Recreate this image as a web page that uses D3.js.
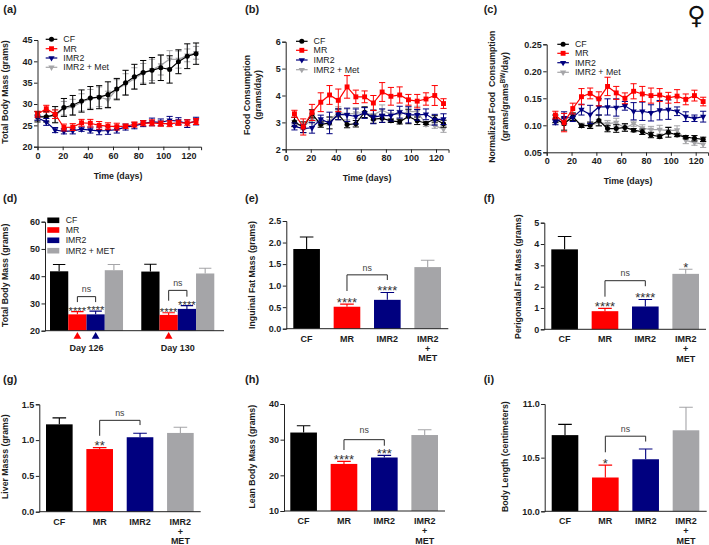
<!DOCTYPE html>
<html><head><meta charset="utf-8">
<script src="https://cdn.jsdelivr.net/npm/d3@7"></script>
<style>
html,body{margin:0;padding:0;background:#fff}
svg{display:block}
text{font-family:"Liberation Sans",Arial,sans-serif;fill:#1c1c1c}
</style></head><body>
<svg id="c" width="709" height="545"></svg>
<script>
// ---------- data ----------
const seriesNames = ["CF","MR","IMR2","IMR2 + Met"];
const barNames = ["CF","MR","IMR2","IMR2 + MET"];
const daysA = [0,7,14,21,28,35,42,49,56,63,70,77,84,91,98,105,112,119,126];
const daysB = [7,14,21,28,35,42,49,56,63,70,77,84,91,98,105,112,119,126];

const aCF   = [27,27,27.5,29.2,29.7,30.7,31.4,31.6,32.2,33.5,35,36.4,37.4,37.9,38.5,38.1,39.9,41.2,41.8];
const aCFe  = [1.2,1.2,1.9,2.1,2.3,2.6,2.7,2.7,3,2.5,2.9,2.9,2.8,3,3,3.2,2.8,2.9,2.5];
const aMR   = [27.6,28.9,27.6,24.5,24.6,25.6,25.5,25,24.8,24.7,24.8,25.2,25.5,25.6,25.4,25.4,25.6,25.6,25.9];
const aMRe  = [.7,.8,1,.8,.8,.8,.9,.9,.8,.8,.5,.6,.6,.7,.6,.7,.6,.7,.7];
const aIM   = [26.8,25.8,23.9,23.6,23.7,24.1,23.9,23.7,23.8,24,24.6,24.9,25.4,25.8,25.7,26.2,26,25.4,26];
const aIMe  = [.6,.8,.6,.6,.7,.5,.7,.9,.9,.8,.7,.7,.7,.9,.8,.9,.8,.9,.9];
const aMT   = [27.2,27,27.2,29,29.3,30.4,31.2,31.7,31,33.5,34.6,36,37.2,38,39.1,40.5,40.4,41.4,42];
const aMTe  = [1,1.2,1.5,1.6,1.8,2,2.2,2.3,2,2.2,2.5,2.5,2.3,2.5,2.3,2,2,1.5,1.5];

const bCF   = [3.02,2.82,3.32,2.92,2.98,3.3,2.92,2.95,3.38,3.12,3.15,3.06,3.02,3.22,3.06,2.97,3.13,2.95];
const bCFe  = [.17,.2,.15,.1,.22,.2,.12,.12,.2,.15,.15,.06,.08,.27,.14,.05,.12,.13];
const bMR   = [3.32,2.83,3.37,3.75,4.02,3.82,4.32,3.95,3.95,3.72,4.13,3.97,4.02,3.84,3.79,3.87,4.0,3.7];
const bMRe  = [.13,.3,.3,.35,.35,.42,.42,.25,.22,.28,.35,.33,.3,.2,.25,.23,.37,.18];
const bIM   = [2.85,2.77,2.8,3.12,2.98,3.3,3.28,3.22,3.35,3.2,3.25,3.25,3.38,3.28,3.28,3.3,3.1,3.12];
const bIMe  = [.13,.15,.2,.15,.4,.2,.25,.28,.2,.25,.25,.2,.22,.3,.2,.2,.2,.2];
const bMT   = [2.95,2.85,3.1,3.0,3.05,3.38,3.3,3.35,3.35,3.28,3.45,3.3,3.3,3.4,3.4,2.93,2.88,2.75];
const bMTe  = [.12,.12,.15,.1,.15,.2,.2,.2,.2,.2,.2,.15,.15,.2,.2,.08,.1,.12];

const cCF   = [.112,.103,.116,.099,.1,.109,.094,.094,.096,.091,.088,.082,.079,.087,.082,.078,.076,.074];
const cCFe  = [.007,.012,.007,.003,.006,.01,.006,.007,.007,.003,.005,.005,.003,.009,.003,.003,.005,.004];
const cMR   = [.119,.105,.131,.153,.159,.149,.172,.16,.15,.163,.158,.155,.156,.151,.154,.148,.155,.144];
const cMRe  = [.007,.017,.01,.015,.01,.013,.017,.012,.01,.014,.014,.014,.012,.01,.012,.01,.01,.008];
const cIM   = [.106,.114,.114,.129,.12,.134,.134,.133,.136,.126,.126,.123,.128,.129,.126,.116,.113,.116];
const cIMe  = [.005,.011,.007,.01,.017,.015,.015,.016,.008,.016,.017,.015,.018,.018,.008,.009,.006,.01];
const cMT   = [.108,.106,.114,.1,.1,.105,.103,.105,.095,.103,.095,.092,.092,.09,.091,.072,.068,.065];
const cMTe  = [.006,.006,.006,.004,.005,.006,.006,.008,.006,.005,.006,.006,.008,.007,.008,.006,.005,.006];

const dVals = [41.8,26,26,42.2, 41.7,25.8,28,41];
const dErrs = [2.5,1,1.2,2.1, 2.7,.8,1.2,1.9];
const eVals = [1.85,.51,.67,1.43]; const eErrs = [.28,.06,.17,.16];
const fVals = [3.75,.85,1.07,2.6]; const fErrs = [.6,.13,.33,.22];
const gVals = [1.22,.875,1.04,1.1]; const gErrs = [.09,.02,.055,.08];
const hVals = [32,23.2,25,31.3];   const hErrs = [1.9,.7,.6,1.5];
const iVals = [10.71,10.315,10.485,10.755]; const iErrs = [.1,.115,.095,.215];
const xTicks = [0,20,40,60,80,100,120];

// ---------- style ----------
const COL = {CF:"#000000",MR:"#ff0000",IM:"#00007f",MT:"#a5a5a8"};
const barCols = [COL.CF,COL.MR,COL.IM,COL.MT];
const AX = "#222";
const svg = d3.select("#c");

function label(txt,x,y,opt={}){
  return svg.append("text").attr("x",x).attr("y",y).text(txt)
    .attr("font-size",opt.size||9).attr("font-weight",opt.weight||"bold")
    .attr("text-anchor",opt.anchor||"middle");
}
function vlabel(txt,x,cy,size=8.75){
  return svg.append("text").attr("transform",`translate(${x},${cy}) rotate(-90)`)
    .attr("text-anchor","middle").attr("font-size",size).attr("font-weight","bold").text(txt);
}
function yAxis(g,y,ticks,fmt){
  const a=d3.axisLeft(y).tickValues(ticks).tickFormat(fmt).tickSize(3.5).tickPadding(1.5);
  g.call(a);
  g.selectAll("path,line").attr("stroke",AX).attr("stroke-width",1);
  g.selectAll("text").attr("font-size",9).attr("font-weight","bold").attr("font-family",'"Liberation Sans",Arial,sans-serif');
}
function xAxisLine(g,x,ticks){
  const a=d3.axisBottom(x).tickValues(ticks).tickFormat(d3.format("d")).tickSize(3.5).tickPadding(2);
  g.call(a);
  g.selectAll("path,line").attr("stroke",AX).attr("stroke-width",1);
  g.selectAll("text").attr("font-size",9).attr("font-weight","bold").attr("font-family",'"Liberation Sans",Arial,sans-serif');
}
const sym = {
  CF:d3.symbol().type(d3.symbolCircle).size(20)(),
  MR:d3.symbol().type(d3.symbolSquare).size(24)(),
  IM:d3.symbol().type(d3.symbolTriangle).size(17)(),
  MT:d3.symbol().type(d3.symbolTriangle).size(17)()
};
function marker(g,key,x,y){
  g.append("path").attr("d",sym[key]).attr("fill",COL[key])
   .attr("transform",`translate(${x},${y})`+((key==="IM"||key==="MT")?" rotate(180)":""));
}
function linePanel(p){
  const x=d3.scaleLinear().domain([0,130]).range([p.x0,p.x0+(p.x120-p.x0)*130/120]);
  const y=d3.scaleLinear().domain(p.yd).range([p.yb,p.yt]);
  const gAll=svg.append("g");
  const line=d3.line().x(d=>x(d[0])).y(d=>y(d[1]));
  p.series.forEach(s=>{
    const g=gAll.append("g");
    const pts=p.days.map((d,i)=>[d,s.v[i],s.e[i]]);
    g.append("path").attr("d",line(pts)).attr("fill","none").attr("stroke",COL[s.k]).attr("stroke-width",1.2);
    pts.forEach(d=>{
      const px=x(d[0]);
      g.append("path").attr("d",`M${px-3.1},${y(d[1]+d[2])}H${px+3.1}M${px},${y(d[1]+d[2])}V${y(d[1]-d[2])}M${px-3.1},${y(d[1]-d[2])}H${px+3.1}`)
        .attr("stroke",COL[s.k]).attr("stroke-width",1).attr("fill","none");
      marker(g,s.k,px,y(d[1]));
    });
  });
  yAxis(svg.append("g").attr("transform",`translate(${p.x0},0)`),y,p.yt_,p.fmt);
  xAxisLine(svg.append("g").attr("transform",`translate(0,${p.yb})`),x,xTicks);
  // legend
  const L=p.leg;
  ["CF","MR","IM","MT"].forEach((k,i)=>{
    const yy=L.ys[i];
    const g=svg.append("g");
    g.append("line").attr("x1",L.x).attr("x2",L.x+11.6).attr("y1",yy).attr("y2",yy).attr("stroke",COL[k]).attr("stroke-width",1.2);
    marker(g,k,L.x+5.8,yy);
    label(seriesNames[i],L.x+17.6,yy+3.1,{size:8.8,weight:"normal",anchor:"start"});
  });
  label("Time (days)",p.xl[0],p.xl[1],{size:8.8});
}
function cats(x,yb,names){
  names.forEach((n,i)=>{
    const cx=x(i)+x.bandwidth()/2;
    if(n.includes("+")){
      label("IMR2",cx,yb+13); label("+",cx,yb+23); label("MET",cx,yb+32.6);
    } else label(n,cx,yb+13);
  });
}
function drawBars(g,x,y,base,vals,errs,idx){
  vals.forEach((v,i)=>{
    const s=idx?idx[i]:i, c=barCols[i%4], cx=x(s)+x.bandwidth()/2;
    const cw=idx?6.2:6.8;
    g.append("path").attr("d",`M${cx},${y(v)}V${y(v+errs[i])}M${cx-cw},${y(v+errs[i])}H${cx+cw}`)
      .attr("stroke",c).attr("stroke-width",1.1).attr("fill","none");
    g.append("rect").attr("x",x(s)).attr("width",x.bandwidth()).attr("y",y(v)).attr("height",y(base)-y(v)).attr("fill",c);
  });
}
function bracket(x1,x2,yTop,yL,yR,nsY,y){
  svg.append("path").attr("d",`M${x1},${y(yL)}V${y(yTop)}H${x2}V${y(yR)}`)
    .attr("fill","none").attr("stroke","#2a2a2a").attr("stroke-width",1);
  label("ns",(x1+x2)/2,nsY,{size:8.8,weight:"normal"}).style("fill","#444");
}
function stars(s,cx,yy,size){
  label(s,cx,yy,{size:size,weight:"normal"}).style("fill","#333");
}
function barPanel(p){
  const x=d3.scaleBand().domain([0,1,2,3]).range(p.xr).paddingInner(.34);
  const y=d3.scaleLinear().domain(p.yd).range([p.yb,p.yt]);
  drawBars(svg.append("g"),x,y,p.yd[0],p.vals,p.errs);
  yAxis(svg.append("g").attr("transform",`translate(${p.ax[0]},0)`),y,p.ticks,p.fmt);
  svg.append("line").attr("x1",p.ax[0]).attr("x2",p.ax[1]).attr("y1",p.yb).attr("y2",p.yb).attr("stroke",AX).attr("stroke-width",1);
  cats(x,p.yb,barNames);
  const c=i=>x(i)+x.bandwidth()/2;
  const b=p.br;
  bracket(c(1),c(2),b[0],b[1],b[2],p.nsY,y);
  p.st.forEach(([i,s])=>stars(s,c(i),y(p.vals[i]+p.errs[i])+2.5,13));
  vlabel(p.yl[0],p.yl[1],p.yl[2]);
}

// ---------- line panels ----------
linePanel({x0:37.5,x120:188.5,yb:146.7,yt:40,yd:[20,45],yt_:[20,25,30,35,40,45],fmt:d3.format("d"),days:daysA,
  series:[{k:"MT",v:aMT,e:aMTe},{k:"CF",v:aCF,e:aCFe},{k:"IM",v:aIM,e:aIMe},{k:"MR",v:aMR,e:aMRe}],
  leg:{x:45.7,ys:[39.3,48.7,58,67.3]},xl:[118,179]});
linePanel({x0:285.7,x120:436,yb:149.3,yt:41.7,yd:[2,6],yt_:[2,3,4,5,6],fmt:d3.format("d"),days:daysB,
  series:[{k:"MT",v:bMT,e:bMTe},{k:"CF",v:bCF,e:bCFe},{k:"IM",v:bIM,e:bIMe},{k:"MR",v:bMR,e:bMRe}],
  leg:{x:296,ys:[41.3,50.3,60,69.7]},xl:[367,181]});
linePanel({x0:546.7,x120:695.7,yb:152.3,yt:44.3,yd:[.05,.25],yt_:[.05,.1,.15,.2,.25],fmt:d3.format(".2f"),days:daysB,
  series:[{k:"MT",v:cMT,e:cMTe},{k:"CF",v:cCF,e:cCFe},{k:"IM",v:cIM,e:cIMe},{k:"MR",v:cMR,e:cMRe}],
  leg:{x:557.3,ys:[44.3,53.3,62.7,72.3]},xl:[628,184]});

vlabel("Total Body Mass (grams)",8,92);
vlabel("Food Consumption",250,95);
vlabel("(grams/day)",261,95);
vlabel("Normalized Food  Consumption",495,96.7).attr("xml:space","preserve").style("white-space","pre");
const cl=vlabel("(grams/grams",508,96.7);
cl.append("tspan").attr("dy",-3).attr("font-size",6.5).text("BW");
cl.append("tspan").attr("dy",3).text("/day)");

// ---------- panel d ----------
(function(){
  const x=d3.scaleBand().domain(d3.range(9)).range([50,214.3]);
  const y=d3.scaleLinear().domain([20,60]).range([330.7,221.7]);
  const idx=[0,1,2,3,5,6,7,8];
  drawBars(svg.append("g"),x,y,20,dVals,dErrs,idx);
  yAxis(svg.append("g").attr("transform","translate(45,0)"),y,[20,30,40,50,60],d3.format("d"));
  svg.append("line").attr("x1",45).attr("x2",224).attr("y1",330.7).attr("y2",330.7).attr("stroke",AX).attr("stroke-width",1);
  const c=s=>x(s)+x.bandwidth()/2;
  label("Day 126",c(1)+x.bandwidth()/2,350.5,{size:9});
  label("Day 130",c(6)+x.bandwidth()/2,350.5,{size:9});
  bracket(c(1),c(2),32.5,30.5,30.5,292,y);
  bracket(c(6),c(7),34.8,31,32.5,285.5,y);
  [1,2,5,6].forEach(i=>stars("****",c(idx[i]),y(dVals[i]+dErrs[i])+3.2,11.3));
  const tri=d3.symbol().type(d3.symbolTriangle).size(26)();
  [[1,COL.MR],[2,COL.IM],[6,COL.MR]].forEach(([s,col])=>{
    svg.append("path").attr("d",tri).attr("fill",col).attr("transform",`translate(${c(s)},336.5)`);
  });
  const ys=[220.3,230,240.3,250.7];
  barNames.forEach((n,i)=>{
    svg.append("rect").attr("x",47.3).attr("y",ys[i]-2.8).attr("width",12).attr("height",5.6).attr("fill",barCols[i]);
    label(n,65.7,ys[i]+3.1,{size:8.7,weight:"normal",anchor:"start"});
  });
  vlabel("Total Body Mass (grams)",8,275.3);
})();

// ---------- bar panels ----------
barPanel({xr:[293.3,441],ax:[286.3,448.3],yb:328.7,yt:221,yd:[0,2.5],ticks:[0,.5,1,1.5,2,2.5],fmt:d3.format(".1f"),
  vals:eVals,errs:eErrs,br:[1.25,.875,1.13],nsY:270.5,st:[[1,"****"],[2,"****"]],yl:["Inguinal Fat Mass (grams)",255,275]});
barPanel({xr:[551.3,699],ax:[544.3,706],yb:329.3,yt:222.7,yd:[0,5],ticks:[0,1,2,3,4,5],fmt:d3.format("d"),
  vals:fVals,errs:fErrs,br:[2.28,1.53,2.02],nsY:276,st:[[1,"****"],[2,"****"],[3,"*"]],yl:["Perigonadal Fat Mass (grams)",521,276.7]});
barPanel({xr:[46,193.7],ax:[39.3,200.7],yb:511.7,yt:404.3,yd:[0,1.5],ticks:[0,.5,1,1.5],fmt:d3.format(".1f"),
  vals:gVals,errs:gErrs,br:[1.276,1.06,1.21],nsY:415.5,st:[[1,"**"]],yl:["Liver Masss (grams)",8,456.7]});
barPanel({xr:[290.3,438],ax:[284,445],yb:511,yt:404,yd:[10,40],ticks:[10,20,30,40],fmt:d3.format("d"),
  vals:hVals,errs:hErrs,br:[30,27.1,28.3],nsY:433,st:[[1,"****"],[2,"***"]],yl:["Lean Body Mass (grams)",255,456.7]});
barPanel({xr:[551.7,699.3],ax:[544.7,706.7],yb:511.3,yt:404,yd:[10,11],ticks:[10,10.5,11],fmt:d3.format(".1f"),
  vals:iVals,errs:iErrs,br:[10.7,10.55,10.65],nsY:432,st:[[1,"*"]],yl:["Body Length (centimeters)",508,456.7]});

// ---------- panel letters ----------
[["(a)",3.3,13],["(b)",245,13],["(c)",483.7,13],["(d)",3,201.5],["(e)",245,201.5],["(f)",483.7,201.5],
 ["(g)",3,383],["(h)",245,383],["(i)",483.7,383]].forEach(([t,x,y])=>label(t,x,y,{size:11,anchor:"start"}));
svg.append("text").attr("x",696.5).attr("y",23.5).attr("text-anchor","middle").attr("font-size",25)
  .style("font-family","'DejaVu Sans'").style("fill","#111").style("font-weight","bold").text("♀");
</script>
</body></html>
